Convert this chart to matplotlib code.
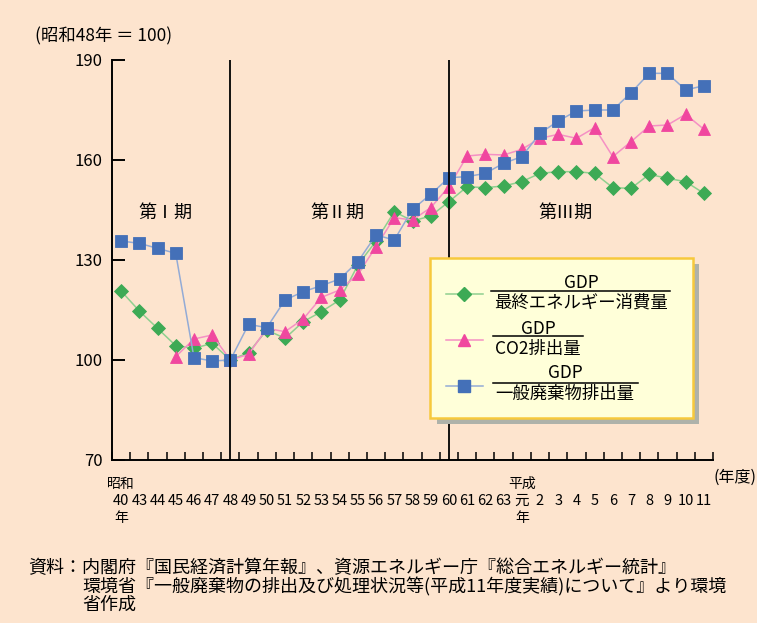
import numpy as np
import matplotlib.pyplot as plt
from matplotlib.patches import Rectangle
from matplotlib.lines import Line2D

plt.rcParams['font.family'] = ['Noto Sans CJK JP', 'DejaVu Sans']

# fiscal years: 昭和40, 43-63, 平成元-11
years = ["40", "43", "44", "45", "46", "47", "48", "49", "50", "51", "52",
         "53", "54", "55", "56", "57", "58", "59", "60", "61", "62", "63",
         "元", "2", "3", "4", "5", "6", "7", "8", "9", "10", "11"]

# GDP / 最終エネルギー消費量 (昭和48年=100)
energy = [120.7, 114.7, 109.5, 104.3, 103.5, 105.0, 100.0, 102.2, 109.0,
          106.5, 111.5, 114.5, 118.0, 128.5, 135.7, 144.5, 141.7, 143.2,
          147.5, 152.0, 151.7, 152.2, 153.5, 156.0, 156.5, 156.5, 156.0,
          151.7, 151.5, 155.7, 154.5, 153.5, 150.0]

# GDP / CO2排出量
co2 = [np.nan, np.nan, np.nan, 101.0, 106.3, 107.5, 100.0, 101.7, 109.5,
       108.5, 112.3, 118.8, 121.0, 125.7, 134.0, 142.7, 142.0, 145.7,
       152.0, 161.2, 161.7, 161.5, 163.2, 166.5, 167.7, 166.5, 169.7,
       161.0, 165.5, 170.2, 170.5, 173.7, 169.2]

# GDP / 一般廃棄物排出量
waste = [135.7, 135.0, 133.5, 132.0, 100.7, 99.7, 100.0, 110.7, 109.7,
         118.0, 120.5, 122.3, 124.3, 129.5, 137.5, 136.0, 145.2, 149.7,
         154.7, 155.0, 156.0, 159.0, 161.0, 168.0, 171.7, 174.7, 175.0,
         175.0, 180.2, 186.0, 186.0, 181.0, 182.3]

period_breaks = ["48", "60"]
period_names = ["第Ⅰ期", "第Ⅱ期", "第Ⅲ期"]

BG = "#fde4ce"
W, H = 757, 623

def fp(x, y):
    # pixel position -> figure fraction
    return x / W, 1 - y / H

x = np.arange(len(years))

fig = plt.figure(figsize=(W / 100, H / 100), dpi=100, facecolor=BG)
ax = fig.add_axes([112 / W, (H - 460) / H, 601 / W, 400 / H], facecolor=BG)

series = [
    (energy, "D", 7, "#3daa55", "#8fd08f"),
    (co2, "^", 9, "#f0479f", "#f590c4"),
    (waste, "s", 8, "#4470b8", "#93abd6"),
]
for vals, mk, ms, c, lc in series:
    ax.plot(x, vals, color=lc, lw=1.1, marker=mk, ms=ms,
            mfc=c, mec=c, mew=0.6)

for yr in period_breaks:
    ax.axvline(years.index(yr), color="black", lw=1.3)

for name, px in zip(period_names, [2.45, 11.9, 24.4]):
    ax.text(px, 144, name, ha="center", va="center", fontsize=13)

ax.set_xlim(-0.5, len(years) - 0.5)
ax.set_ylim(70, 190)
ax.set_yticks([70, 100, 130, 160, 190])
for s in ["top", "right"]:
    ax.spines[s].set_visible(False)
for s in ["left", "bottom"]:
    ax.spines[s].set_linewidth(1.4)
ax.tick_params(axis="y", direction="in", length=9, width=1.4,
               labelsize=12, pad=7)

# tick marks on category boundaries, labels centred under each year
ax.set_xticks(np.arange(len(years) + 1) - 0.5, minor=True)
ax.set_xticks([])
ax.tick_params(axis="x", which="minor", direction="in", length=6, width=1.1)
xt = ax.get_xaxis_transform()
for i, lab in enumerate(years):
    ax.text(i, -0.1025, lab, transform=xt, ha="center", va="center",
            fontsize=10.5)
gen = years.index("元")
for xi, top in [(0, "昭和"), (gen, "平成")]:
    ax.text(xi, -0.06, top, transform=xt, ha="center", va="center",
            fontsize=10)
    ax.text(xi, -0.145, "年", transform=xt, ha="center", va="center",
            fontsize=10)

fig.text(*fp(35, 36), "(昭和48年 ＝ 100)", ha="left", va="center", fontsize=12.5)
fig.text(*fp(735, 477), "(年度)", ha="center", va="center", fontsize=11.5)

# legend box with fraction labels
tf = fig.transFigure
fig.patches.append(Rectangle(fp(437, 424), 262 / W, 160 / H, transform=tf,
                             facecolor="#aeb2aa", edgecolor="none", zorder=5))
fig.patches.append(Rectangle(fp(430, 418), 263 / W, 160 / H, transform=tf,
                             facecolor="#ffffd9", edgecolor="#f7c93c", lw=1.8,
                             zorder=6))

legend_rows = [
    (294, 283, 291, 303, 581, 491, 670, "最終エネルギー消費量"),
    (340, 329, 336, 349, 538, 493, 583, "CO2排出量"),
    (386, 373, 383, 394, 565, 493, 638, "一般廃棄物排出量"),
]
for (vals, mk, ms, c, lc), row in zip(series, legend_rows):
    ly, ny, ry, dy, cx, r0, r1, denom = row
    fig.add_artist(Line2D([446 / W, 483 / W], [1 - ly / H] * 2, transform=tf,
                          color=lc, lw=1.1, zorder=7))
    fig.add_artist(Line2D([464 / W], [1 - ly / H], transform=tf, marker=mk,
                          ms=ms, mfc=c, mec=c, lw=0, zorder=8))
    fig.text(*fp(cx, ny), "GDP", ha="center", va="center", fontsize=12.5,
             zorder=8)
    fig.add_artist(Line2D([r0 / W, r1 / W], [1 - ry / H] * 2, transform=tf,
                          color="black", lw=1.1, zorder=8))
    fig.text(*fp(cx, dy), denom, ha="center", va="center", fontsize=12.5,
             zorder=8)

notes = [
    (28, 568, "資料：内閣府『国民経済計算年報』、資源エネルギー庁『総合エネルギー統計』"),
    (82, 587, "環境省『一般廃棄物の排出及び処理状況等(平成11年度実績)について』より環境"),
    (82, 605, "省作成"),
]
for nx, ny, t in notes:
    fig.text(*fp(nx, ny), t, ha="left", va="center", fontsize=13)

fig.savefig("out.png", dpi=100, facecolor=BG)
